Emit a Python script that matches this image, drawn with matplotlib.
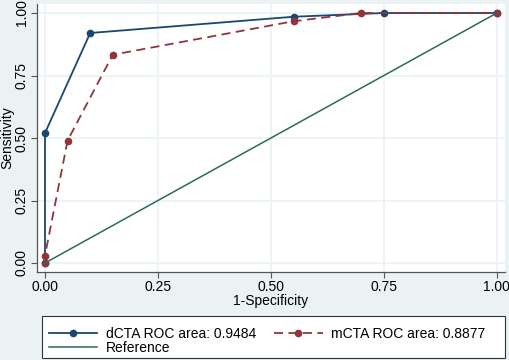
import numpy as np
import matplotlib.pyplot as plt
from matplotlib.patches import Rectangle

plt.rcParams['font.family'] = ['Liberation Sans', 'DejaVu Sans']

# ROC points
dcta_x = [0.0, 0.0, 0.10, 0.55, 0.75, 1.0]
dcta_y = [0.0, 0.52, 0.92, 0.985, 1.0, 1.0]
mcta_x = [0.0, 0.0, 0.05, 0.15, 0.55, 0.70, 1.0]
mcta_y = [0.0, 0.03, 0.49, 0.833, 0.967, 1.0, 1.0]
ref_x = [0.0, 1.0]
ref_y = [0.0, 1.0]
ticks = [0.0, 0.25, 0.5, 0.75, 1.0]
tick_labels = ["0.00", "0.25", "0.50", "0.75", "1.00"]

bg = "#eaf2f3"
navy = "#1a476f"
maroon = "#90353b"
green = "#2a6a5c"

W, H = 510, 360
fig = plt.figure(figsize=(5.1, 3.6), dpi=100, facecolor=bg)
ax = fig.add_axes([37 / W, 1 - 272 / H, (505 - 37) / W, (272 - 4) / H])
ax.set_facecolor("white")

ax.plot(dcta_x, dcta_y, color=navy, lw=1.3, marker="o", ms=4.5,
        label="dCTA ROC area: 0.9484")
ax.plot(mcta_x, mcta_y, color=maroon, lw=1.3, ls=(0, (5, 3)), marker="o", ms=4.5,
        label="mCTA ROC area: 0.8877")
ax.plot(ref_x, ref_y, color=green, lw=1.1, label="Reference")

ax.set_xlim(-0.0177, 1.018)
ax.set_ylim(-0.036, 1.036)
ax.set_xticks(ticks)
ax.set_xticklabels(tick_labels, fontsize=10)
ax.set_yticks(ticks)
ax.set_yticklabels(tick_labels, fontsize=10, rotation=90, va="center")
ax.grid(color=bg, lw=1.2)
ax.set_axisbelow(True)
for s in ["top", "right"]:
    ax.spines[s].set_visible(False)
for s in ["left", "bottom"]:
    ax.spines[s].set_color("#555555")
    ax.spines[s].set_linewidth(0.9)
ax.tick_params(direction="out", length=4, color="#555555", pad=2)
ax.set_xlabel("1-Specificity", fontsize=10, labelpad=0)
ax.set_ylabel("Sensitivity", fontsize=10)
ax.yaxis.set_label_coords(-23 / (505 - 37), 0.5)

# legend box (drawn by hand so it spans the full width)
fig.patches.append(Rectangle((42 / W, 1 - 358 / H), (505 - 42) / W, 42 / H,
                             transform=fig.transFigure, facecolor="white",
                             edgecolor="#333333", lw=0.8, zorder=0))
h, l = ax.get_legend_handles_labels()
order = [0, 2, 1]
leg = fig.legend([h[i] for i in order], [l[i] for i in order], ncol=2,
                 loc="lower left", bbox_to_anchor=(46 / W, 1 - 358 / H, (488 - 46) / W, 40 / H),
                 mode="expand", fontsize=10, frameon=False,
                 handlelength=3.5, handletextpad=0.6, borderaxespad=0,
                 labelspacing=0.05, borderpad=0.2)

fig.savefig("out.png", dpi=100, facecolor=bg)
